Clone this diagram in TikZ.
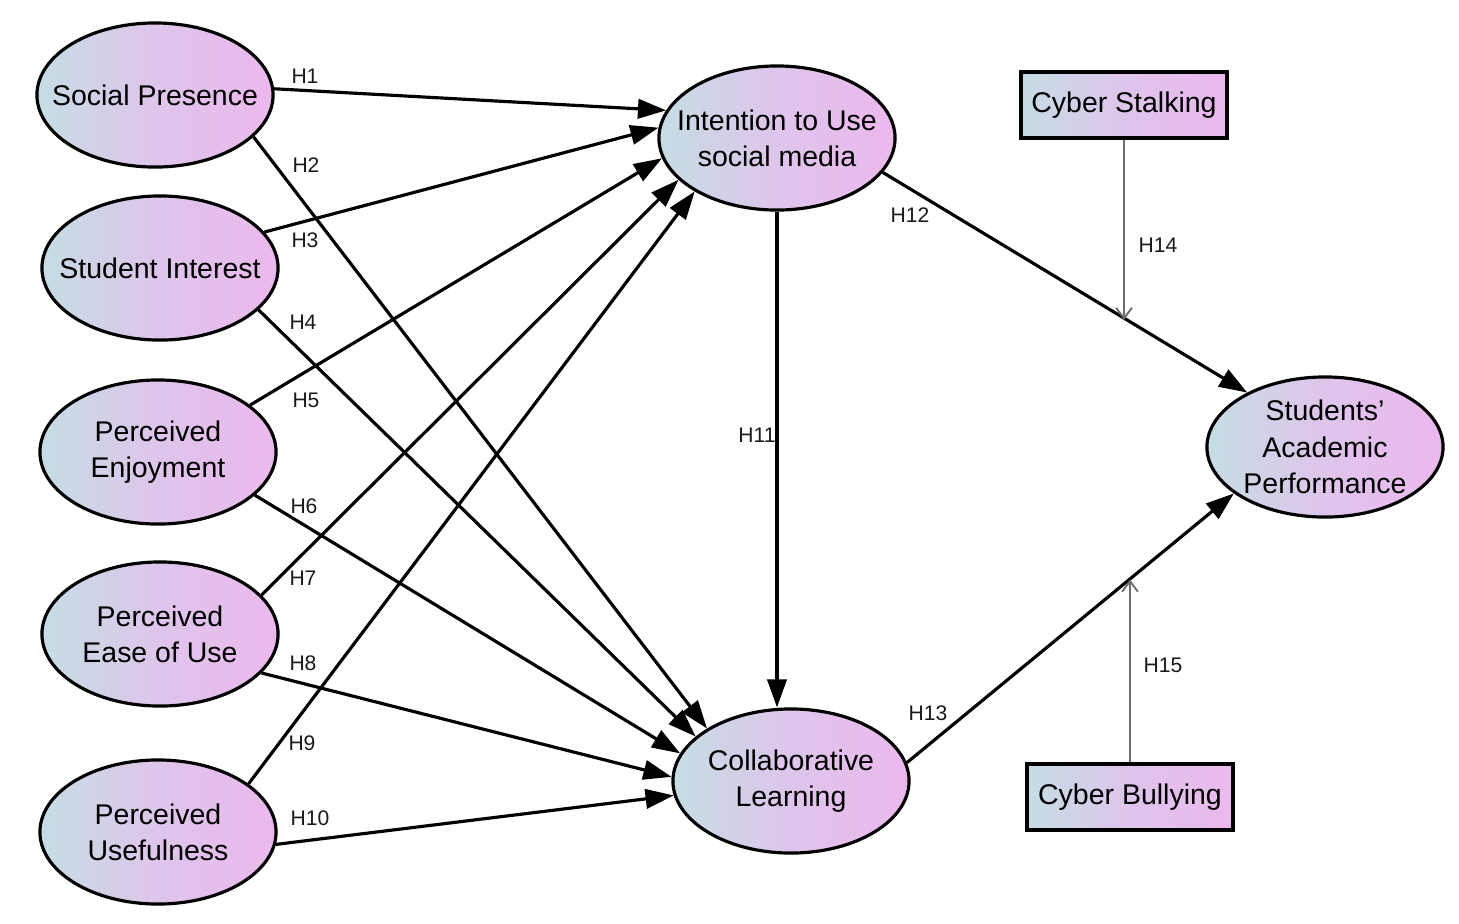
\documentclass[tikz,border=0pt]{standalone}
\usepackage{fontspec}
\setmainfont{Liberation Sans}
\usetikzlibrary{arrows.meta,shapes.geometric}
\definecolor{latblue}{RGB}{197,221,229}
\definecolor{latpink}{RGB}{236,184,238}
\definecolor{modgray}{RGB}{110,110,110}
\newcommand{\nodefont}{\fontsize{8.1}{10.3}\selectfont}

\begin{document}
\begin{tikzpicture}[x=0.01cm, y=-0.01cm, >={Triangle[length=8pt,width=5.5pt]},
  construct/.style={ellipse, draw, line width=0.9pt, left color=latblue, right color=latpink,
    middle color=latpink!65!latblue, minimum width=2.36cm, minimum height=1.44cm,
    inner xsep=-0.25cm, inner ysep=-0.05cm, align=center, font=\nodefont},
  moderator/.style={rectangle, draw, line width=1.3pt, left color=latblue, right color=latpink,
    middle color=latpink!65!latblue, minimum width=2.06cm, minimum height=0.66cm,
    inner sep=0pt, font=\nodefont},
  hyp/.style={->, line width=0.9pt},
  modarrow/.style={-{Straight Barb[length=3pt,width=4.5pt]}, draw=modgray, line width=0.55pt},
  hlabel/.style={font=\fontsize{6}{7}\selectfont, inner sep=0pt, text=black!90}]
\useasboundingbox (0,0) rectangle (1459,923);

% constructs
\node[construct] (sp) at (155,95) {Social Presence};
\node[construct] (si) at (160,268) {Student Interest};
\node[construct] (pe) at (158,452) {Perceived\\Enjoyment};
\node[construct] (peou) at (160,634) {Perceived\\Ease of Use};
\node[construct] (pu) at (158,832) {Perceived\\Usefulness};
\node[construct] (itu) at (777,138) {Intention to Use\\social media};
\node[construct] (cl) at (791,781) {Collaborative\\Learning};
\node[construct, minimum height=1.40cm] (sap) at (1325,447) {Students'\\Academic\\Performance};
\node[moderator] (cs) at (1124,105) {Cyber Stalking};
\node[moderator] (cb) at (1130,797) {Cyber Bullying};

% hypotheses
\draw[hyp] (sp.3) -- (itu.166);
\draw[hyp] (sp.-23) -- (cl.148);
\draw[hyp] (si.19) -- (itu.175);
\draw[hyp] (si.-23) -- (cl.155);
\draw[hyp] (pe.27) -- (itu.190);
\draw[hyp] (pe.-24) -- (cl.166);
\draw[hyp] (peou.21) -- (itu.203);
\draw[hyp] (peou.-21) -- (cl.178);
\draw[hyp] (pu.28) -- (itu.213);
\draw[hyp] (pu.-6) -- (cl.187);
\draw[hyp] (itu.south) -- (itu.south |- cl.north);
\draw[hyp] (itu.-18) -- coordinate[pos=0.67] (m1) (sap.145.5);
\draw[hyp] (cl.9.5) -- coordinate[pos=0.68] (m2) (sap.207);

% moderating effects
\draw[modarrow] (cs.south) -- (cs.south |- m1);
\draw[modarrow] (cb.north) -- (cb.north |- m2);

% labels
\node[hlabel] (h1) at (305,76) {H1};
\node[hlabel] (h2) at (306,165) {H2};
\node[hlabel] (h3) at (305,240) {H3};
\node[hlabel] (h4) at (303,322) {H4};
\node[hlabel] (h5) at (306,400) {H5};
\node[hlabel] (h6) at (304,506) {H6};
\node[hlabel] (h7) at (303,578) {H7};
\node[hlabel] (h8) at (303,663) {H8};
\node[hlabel] (h9) at (302,743) {H9};
\node[hlabel] (h10) at (310,818) {H10};
\node[hlabel] (h11) at (757,435) {H11};
\node[hlabel] (h12) at (910,215) {H12};
\node[hlabel] (h13) at (928,713) {H13};
\node[hlabel] (h14) at (1158,245) {H14};
\node[hlabel] (h15) at (1163,665) {H15};
\end{tikzpicture}
\end{document}
